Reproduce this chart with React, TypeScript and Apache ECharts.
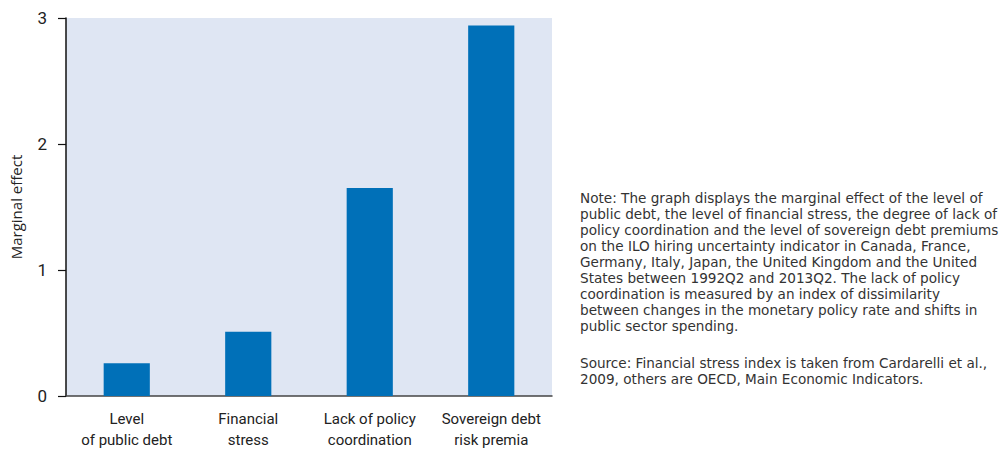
import React, { useEffect, useRef } from "react";
import * as echarts from "echarts";

const categories = ["Level\nof public debt", "Financial\nstress", "Lack of policy\ncoordination", "Sovereign debt\nrisk premia"];
const marginalEffect = [0.26, 0.51, 1.65, 2.94];
const yTicks = { min: 0, max: 3, interval: 1 };
const yAxisName = "Marginal effect";
const noteLines = [
  "Note: The graph displays the marginal effect of the level of",
  "public debt, the level of financial stress, the degree of lack of",
  "policy coordination and the level of sovereign debt premiums",
  "on the ILO hiring uncertainty indicator in Canada, France,",
  "Germany, Italy, Japan, the United Kingdom and the United",
  "States between 1992Q2 and 2013Q2. The lack of policy",
  "coordination is measured by an index of dissimilarity",
  "between changes in the monetary policy rate and shifts in",
  "public sector spending.",
];
const sourceLines = [
  "Source: Financial stress index is taken from Cardarelli et al.,",
  "2009, others are OECD, Main Economic Indicators.",
];

const condensed = "Roboto, sans-serif";
const plain = "'Open Sans', sans-serif";
const noteFont = "'DejaVu Sans', sans-serif";

export default function App() {
  const ref = useRef<HTMLDivElement>(null);
  useEffect(() => {
    document.body.style.margin = "0";
    const chart = echarts.init(ref.current!, null, { renderer: "svg" });
    chart.setOption({
      animation: false,
      grid: {
        left: 66,
        top: 18,
        width: 486,
        height: 378,
        show: true,
        backgroundColor: "#dfe6f3",
        borderWidth: 0,
      },
      xAxis: {
        type: "category",
        data: categories,
        axisLine: { lineStyle: { color: "#444", width: 1.5 } },
        axisTick: { show: false },
        axisLabel: {
          interval: 0,
          color: "#222",
          fontSize: 15,
          fontFamily: condensed,
          lineHeight: 21,
          margin: 12,
        },
      },
      yAxis: {
        type: "value",
        min: yTicks.min,
        max: yTicks.max,
        interval: yTicks.interval,
        name: yAxisName,
        nameLocation: "middle",
        nameGap: 43,
        nameTextStyle: { color: "#222", fontSize: 15, fontFamily: plain },
        axisLine: { show: true, lineStyle: { color: "#111", width: 1.5 } },
        axisTick: { show: true, length: 8, lineStyle: { color: "#111", width: 1.2 } },
        axisLabel: { color: "#222", fontSize: 17, fontFamily: condensed, margin: 19 },
        splitLine: { show: false },
      },
      series: [
        {
          type: "bar",
          data: marginalEffect,
          barWidth: "38%",
          itemStyle: { color: "#0070b8" },
        },
      ],
      graphic: [
        {
          type: "text",
          left: 580,
          top: 190,
          style: {
            text: noteLines.join("\n"),
            fontSize: 13.6,
            lineHeight: 16,
            fontFamily: noteFont,
            fill: "#333",
          },
        },
        {
          type: "text",
          left: 580,
          top: 355,
          style: {
            text: sourceLines.join("\n"),
            fontSize: 13.6,
            lineHeight: 16,
            fontFamily: noteFont,
            fill: "#333",
          },
        },
      ],
    });
    return () => chart.dispose();
  }, []);
  return <div ref={ref} style={{ width: 1001, height: 450 }} />;
}
